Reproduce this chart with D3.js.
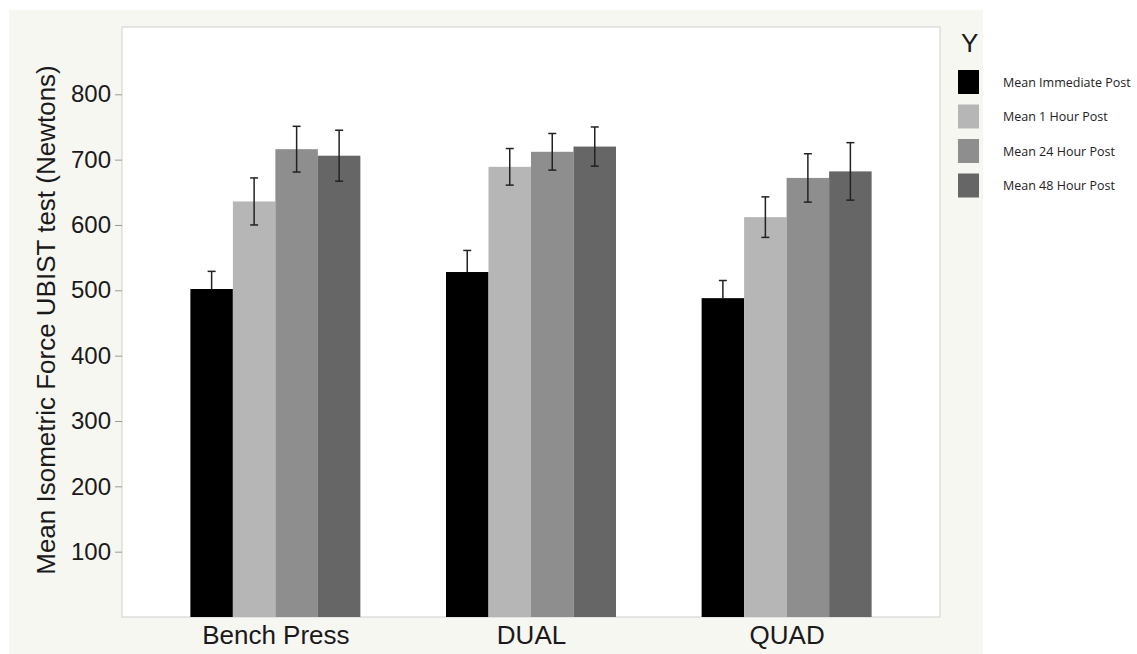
<!DOCTYPE html>
<html>
<head>
<meta charset="utf-8">
<script src="https://cdn.jsdelivr.net/npm/d3@7"></script>
<style>
  body { margin: 0; background: #fff; }
  svg { display: block; }
</style>
</head>
<body>
<svg id="chart"></svg>
<script>
// Data
const exercises = ["Bench Press", "DUAL", "QUAD"];
const timepoints = ["Mean Immediate Post", "Mean 1 Hour Post", "Mean 24 Hour Post", "Mean 48 Hour Post"];
const meanImmediate = [502, 528, 488];
const mean1Hour = [636, 689, 612];
const mean24Hour = [716, 712, 672];
const mean48Hour = [706, 720, 682];
const errImmediate = [27, 33, 27];
const err1Hour = [36, 28, 31];
const err24Hour = [35, 28, 37];
const err48Hour = [39, 30, 44];
const yTicks = [100, 200, 300, 400, 500, 600, 700, 800];
const barColors = ["#000000", "#b6b6b6", "#8e8e8e", "#666666"];

const seriesMeans = [meanImmediate, mean1Hour, mean24Hour, mean48Hour];
const seriesErrs = [errImmediate, err1Hour, err24Hour, err48Hour];

const width = 1137, height = 654;
const plot = { left: 122, right: 940, top: 27, bottom: 617 };
const font = "Liberation Sans, Arial, sans-serif";

const svg = d3.select("#chart").attr("width", width).attr("height", height);

// Off-white panel behind the chart
svg.append("rect")
  .attr("x", 9).attr("y", 10)
  .attr("width", 974).attr("height", height - 10)
  .attr("fill", "#f7f7f2");

// Plot area
svg.append("rect")
  .attr("x", plot.left).attr("y", plot.top)
  .attr("width", plot.right - plot.left).attr("height", plot.bottom - plot.top)
  .attr("fill", "#fff")
  .attr("stroke", "#cfcfcf")
  .attr("stroke-width", 1);

// Scales
const y = d3.scaleLinear().domain([0, 903]).range([plot.bottom, plot.top]);
const x = d3.scalePoint().domain(exercises).range([plot.left, plot.right]).padding(0.6);
const groupWidth = 170;
const xSub = d3.scaleBand().domain(d3.range(timepoints.length)).range([-groupWidth / 2, groupWidth / 2]);

// Y axis
const yAxis = svg.append("g")
  .attr("transform", `translate(${plot.left},0)`)
  .call(d3.axisLeft(y).tickValues(yTicks).tickSize(7).tickPadding(4));
yAxis.select(".domain").remove();
yAxis.selectAll(".tick line").attr("stroke", "#999");
yAxis.selectAll(".tick text")
  .attr("font-family", font)
  .attr("font-size", 24)
  .attr("fill", "#1a1a1a");

// X axis labels
const xAxis = svg.append("g")
  .attr("transform", `translate(0,${plot.bottom})`)
  .call(d3.axisBottom(x).tickSize(0).tickPadding(9));
xAxis.select(".domain").remove();
xAxis.selectAll(".tick text")
  .attr("font-family", font)
  .attr("font-size", 26)
  .attr("fill", "#1a1a1a");

// Y axis title
svg.append("text")
  .attr("transform", "rotate(-90)")
  .attr("x", -320)
  .attr("y", 55)
  .attr("text-anchor", "middle")
  .attr("font-family", font)
  .attr("font-size", 26)
  .attr("fill", "#1a1a1a")
  .text("Mean Isometric Force UBIST test (Newtons)");

// Bars and error bars
const rows = [];
exercises.forEach((ex, i) => {
  seriesMeans.forEach((vals, s) => {
    rows.push({ ex, s, mean: vals[i], err: seriesErrs[s][i] });
  });
});

const bars = svg.append("g");
bars.selectAll("rect")
  .data(rows)
  .enter()
  .append("rect")
  .attr("x", d => x(d.ex) + xSub(d.s))
  .attr("y", d => y(d.mean))
  .attr("width", xSub.bandwidth())
  .attr("height", d => y(0) - y(d.mean))
  .attr("fill", d => barColors[d.s]);

const errG = svg.append("g")
  .attr("stroke", "#222")
  .attr("stroke-width", 1.5);
rows.forEach(d => {
  const cx = x(d.ex) + xSub(d.s) + xSub.bandwidth() / 2;
  const lo = d.s === 0 ? d.mean : d.mean - d.err;
  errG.append("line")
    .attr("x1", cx).attr("x2", cx)
    .attr("y1", y(d.mean + d.err)).attr("y2", y(lo));
  errG.append("line")
    .attr("x1", cx - 4).attr("x2", cx + 4)
    .attr("y1", y(d.mean + d.err)).attr("y2", y(d.mean + d.err));
  if (d.s !== 0) {
    errG.append("line")
      .attr("x1", cx - 4).attr("x2", cx + 4)
      .attr("y1", y(lo)).attr("y2", y(lo));
  }
});

// Legend
svg.append("text")
  .attr("x", 961).attr("y", 52)
  .attr("font-family", font)
  .attr("font-size", 26)
  .attr("fill", "#1a1a1a")
  .text("Y");

const legend = svg.append("g");
timepoints.forEach((t, i) => {
  const yy = 70 + i * 34.5;
  legend.append("rect")
    .attr("x", 958).attr("y", yy)
    .attr("width", 21).attr("height", 24)
    .attr("fill", barColors[i]);
  legend.append("text")
    .attr("x", 1003).attr("y", yy + 12)
    .attr("dominant-baseline", "central")
    .attr("font-family", "Open Sans, sans-serif")
    .attr("font-size", 12.5)
    .attr("fill", "#222")
    .text(t);
});
</script>
</body>
</html>
